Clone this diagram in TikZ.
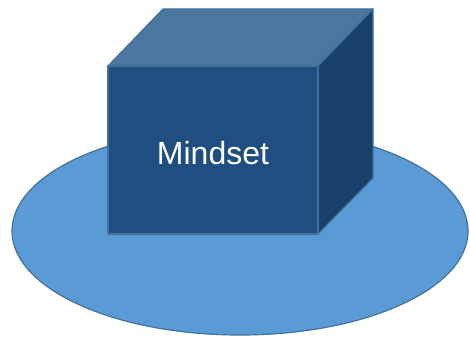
\documentclass[tikz,border=0pt]{standalone}
\usepackage{fontspec}
\setmainfont{Liberation Sans}
\usetikzlibrary{shapes.geometric}
\definecolor{ellfill}{HTML}{5B9BD5}
\definecolor{edge}{HTML}{41719C}
\definecolor{frontc}{HTML}{1F4E80}
\definecolor{topc}{HTML}{4A76A0}
\definecolor{sidec}{HTML}{18406B}
\begin{document}
\begin{tikzpicture}[x=1pt,y=-1pt,
  facestyle/.style={draw=edge,line width=1.2pt,line join=round}]
\useasboundingbox (0,0) rectangle (470,337);
\fill[white] (0,0) rectangle (470,337);
% ellipse base
\node[ellipse,draw=edge,line width=1.2pt,fill=ellfill,minimum width=456pt,minimum height=208pt,inner sep=0pt] (base) at (240,231) {};
% cube
\coordinate (fa) at (108,66);
\coordinate (fb) at (318,66);
\coordinate (fc) at (318,234);
\coordinate (fd) at (108,234);
\coordinate (ba) at (163,9);
\coordinate (bb) at (373,9);
\coordinate (bc) at (373,178);
\filldraw[facestyle,fill=topc] (fa) -- (ba) -- (bb) -- (fb) -- cycle;
\filldraw[facestyle,fill=sidec] (fb) -- (bb) -- (bc) -- (fc) -- cycle;
\filldraw[facestyle,fill=frontc] (fa) -- (fb) -- (fc) -- (fd) -- cycle;
\node[text=white,font=\fontsize{32}{38}\selectfont] (label) at (213,153) {Mindset};
\end{tikzpicture}
\end{document}
